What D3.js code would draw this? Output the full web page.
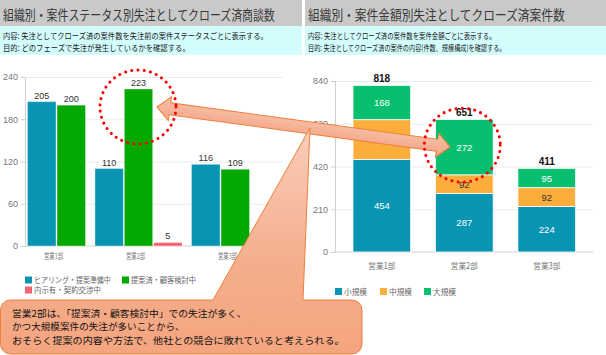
<!DOCTYPE html>
<html><head><meta charset="utf-8">
<script src="https://cdn.jsdelivr.net/npm/d3@7"></script>
<style>
html,body{margin:0;padding:0;background:#fff;}
svg{display:block;font-family:"Noto Sans CJK JP","Noto Sans",sans-serif;}
</style></head>
<body><svg id="c" width="606" height="355"></svg>
<script>
// ---- data ----
const categories = ["営業1部", "営業2部", "営業3部"];
const statusSeries = ["ヒアリング・提案準備中", "提案済・顧客検討中", "内示有・契約交渉中"];
const hearing = [205, 110, 116];
const proposed = [200, 223, 109];
const negotiating = [0, 5, 0];
const statusTicks = [0, 60, 120, 180, 240];

const sizeSeries = ["小規模", "中規模", "大規模"];
const small = [454, 287, 224];
const medium = [196, 92, 92];
const large = [168, 272, 95];
const sizeTicks = [0, 210, 420, 630, 840];

const leftTitle = "組織別・案件ステータス別失注としてクローズ済商談数";
const leftDesc = ["内容: 失注としてクローズ済の案件数を失注前の案件ステータスごとに表示する。", "目的: どのフェーズで失注が発生しているかを確認する。"];
const rightTitle = "組織別・案件金額別失注としてクローズ済案件数";
const rightDesc = ["内容: 失注としてクローズ済の案件数を案件金額ごとに表示する。", "目的: 失注としてクローズ済の案件の内容(件数、規模構成)を確認する。"];
const calloutLines = ["営業2部は、「提案済・顧客検討中」での失注が多く、", "かつ大規模案件の失注が多いことから、", "おそらく提案の内容や方法で、他社との競合に敗れていると考えられる。"];

const statusColors = ["#0894b3", "#02a902", "url(#pinkPat)"];
const sizeColors = ["#0894b3", "#fbae3c", "#08bf6f"];

const svg = d3.select("#c");
const defs = svg.append("defs");
const pat = defs.append("pattern").attr("id", "pinkPat").attr("patternUnits", "userSpaceOnUse").attr("width", 3).attr("height", 3);
pat.append("rect").attr("width", 3).attr("height", 3).attr("fill", "#f76a78");
pat.append("rect").attr("x", 1).attr("y", 1).attr("width", 1).attr("height", 1).attr("fill", "#e2404f");
const g1 = defs.append("linearGradient").attr("id", "calloutGrad").attr("x1", 0).attr("y1", 0).attr("x2", 0).attr("y2", 1);
g1.append("stop").attr("offset", "0").attr("stop-color", "#f9cdb9");
g1.append("stop").attr("offset", "0.6").attr("stop-color", "#f5ae8d");
g1.append("stop").attr("offset", "1").attr("stop-color", "#f4a57f");
const g2 = defs.append("linearGradient").attr("id", "arrowGrad").attr("x1", 0).attr("y1", 0).attr("x2", 0).attr("y2", 1);
g2.append("stop").attr("offset", "0").attr("stop-color", "#f9c4ac");
g2.append("stop").attr("offset", "1").attr("stop-color", "#f2a384");

// place text at (x,y) and squeeze it horizontally to a given width
function fitText(parent, x, y, str, len, attrs) {
  const t = parent.append("text").attr("x", 0).attr("y", 0).text(str);
  Object.entries(attrs || {}).forEach(([k, v]) => t.attr(k, v));
  const nat = t.node().getComputedTextLength() || len;
  t.attr("transform", `translate(${x},${y}) scale(${len / nat},1)`);
  return t;
}

// ---- headers ----
function header(x0, x1, title, titleLen, desc, descLens) {
  svg.append("rect").attr("x", x0).attr("y", 0).attr("width", x1 - x0).attr("height", 26).attr("fill", "#c9c9c9");
  svg.append("rect").attr("x", x0).attr("y", 26).attr("width", x1 - x0).attr("height", 29).attr("fill", "#d3fcfc");
  fitText(svg, x0 + 3, 20, title, titleLen, { "font-size": 13.5, fill: "#383838" });
  desc.forEach((d, i) => {
    fitText(svg, x0 + 3, 38.5 + i * 12, d, descLens[i], { "font-size": 8.5, fill: "#222" });
  });
}
header(0, 302, leftTitle, 272, leftDesc, [265, 187]);
header(305, 606, rightTitle, 257, rightDesc, [188, 198]);

// ---- left chart ----
(function () {
  const axX = 25, right = 283;
  const y = d3.scaleLinear().domain([0, 240]).range([246, 77]);
  const x = d3.scaleBand().domain(categories).range([15.5, 261.5]);
  const g = svg.append("g");
  g.append("g").attr("transform", `translate(${axX},0)`)
    .call(d3.axisLeft(y).tickValues(statusTicks.filter(v => v > 0)).tickSize(-(right - axX)).tickFormat(""))
    .call(s => s.select(".domain").remove())
    .call(s => s.selectAll("line").attr("stroke", "#ececec"));
  g.append("g").attr("transform", `translate(${axX},0)`)
    .call(d3.axisLeft(y).tickValues(statusTicks).tickSize(4).tickPadding(3))
    .call(s => s.select(".domain").attr("stroke", "#d0d0d0"))
    .call(s => s.selectAll("line").attr("stroke", "#d0d0d0"))
    .call(s => s.selectAll("text").attr("fill", "#777").attr("font-size", 9).attr("font-family", "Liberation Sans, Arial, sans-serif"));
  g.append("line").attr("x1", axX).attr("x2", right).attr("y1", y(0)).attr("y2", y(0)).attr("stroke", "#d0d0d0");

  const series = [hearing, proposed, negotiating];
  categories.forEach((c, ci) => {
    const keys = [0, 1, 2].filter(k => series[k][ci] > 0);
    const cx = x(c) + x.bandwidth() / 2;
    const inner = d3.scaleBand().domain(keys).range([cx - keys.length * 29 / 2, cx + keys.length * 29 / 2]).paddingInner(1 / 29);
    keys.forEach(k => {
      const v = series[k][ci];
      g.append("rect").attr("x", inner(k)).attr("width", inner.bandwidth())
        .attr("y", y(v)).attr("height", y(0) - y(v))
        .attr("fill", statusColors[k]).attr("stroke", "rgba(255,255,255,0.35)").attr("stroke-width", 1);
      g.append("text").attr("x", inner(k) + inner.bandwidth() / 2).attr("y", y(v) - 3)
        .attr("text-anchor", "middle").attr("font-size", 9).attr("fill", "#333")
        .attr("font-family", "Liberation Sans, Arial, sans-serif").text(v);
    });
    fitText(g, cx - 3 + (ci === 2 ? 10 : 0), 258.5, c, 19, { "font-size": 8, fill: "#777", "text-anchor": "middle" });
  });
  const leg = [[25, 283, 0, 77], [122, 283, 1, 65], [25, 293, 2, 67]];
  leg.forEach(([lx, ly, k, len]) => {
    g.append("rect").attr("x", lx).attr("y", ly - 6.5).attr("width", 7).attr("height", 7).attr("fill", statusColors[k]);
    fitText(g, lx + 9, ly, statusSeries[k], len, { "font-size": 8, fill: "#666" });
  });
})();

// ---- right chart ----
let rightX, rightY;
(function () {
  const axX = 335, right = 593;
  const y = d3.scaleLinear().domain([0, 840]).range([252, 81]);
  const x = d3.scaleBand().domain(categories).range([340.6, 588]).paddingInner(0.3).paddingOuter(0.15);
  rightX = x; rightY = y;
  const g = svg.append("g");
  g.append("g").attr("transform", `translate(${axX},0)`)
    .call(d3.axisLeft(y).tickValues(sizeTicks.filter(v => v > 0)).tickSize(-(right - axX)).tickFormat(""))
    .call(s => s.select(".domain").remove())
    .call(s => s.selectAll("line").attr("stroke", "#ececec"));
  g.append("g").attr("transform", `translate(${axX},0)`)
    .call(d3.axisLeft(y).tickValues(sizeTicks).tickSize(4).tickPadding(3))
    .call(s => s.select(".domain").attr("stroke", "#d0d0d0"))
    .call(s => s.selectAll("line").attr("stroke", "#d0d0d0"))
    .call(s => s.selectAll("text").attr("fill", "#777").attr("font-size", 9).attr("font-family", "Liberation Sans, Arial, sans-serif"));
  g.append("line").attr("x1", axX).attr("x2", right).attr("y1", y(0)).attr("y2", y(0)).attr("stroke", "#d0d0d0");

  const table = categories.map((c, i) => ({ cat: c, s0: small[i], s1: medium[i], s2: large[i] }));
  const stacked = d3.stack().keys(["s0", "s1", "s2"])(table);
  stacked.forEach((layer, li) => {
    layer.forEach(d => {
      const c = d.data.cat;
      g.append("rect").attr("x", x(c)).attr("width", x.bandwidth())
        .attr("y", y(d[1])).attr("height", y(d[0]) - y(d[1]))
        .attr("fill", sizeColors[li]).attr("stroke", "#fff").attr("stroke-width", 0.8);
      g.append("text").attr("x", x(c) + x.bandwidth() / 2).attr("y", (y(d[0]) + y(d[1])) / 2 + 3.5)
        .attr("text-anchor", "middle").attr("font-size", 9.5)
        .attr("fill", li === 1 ? "#333" : "#fff")
        .attr("font-family", "Liberation Sans, Arial, sans-serif").text(d[1] - d[0]);
    });
  });
  table.forEach(d => {
    const tot = d.s0 + d.s1 + d.s2;
    g.append("text").attr("x", x(d.cat) + x.bandwidth() / 2).attr("y", y(tot) - 3)
      .attr("text-anchor", "middle").attr("font-size", 10).attr("font-weight", "bold").attr("fill", "#111")
      .attr("font-family", "Liberation Sans, Arial, sans-serif").text(tot);
    fitText(g, x(d.cat) + x.bandwidth() / 2, 268.5, d.cat, 27, { "font-size": 8.5, fill: "#777", "text-anchor": "middle" });
  });
  const legX = [335, 380, 424];
  sizeSeries.forEach((s, k) => {
    g.append("rect").attr("x", legX[k]).attr("y", 288).attr("width", 7).attr("height", 7).attr("fill", sizeColors[k]);
    fitText(g, legX[k] + 9, 294.5, s, 23, { "font-size": 8, fill: "#666" });
  });
})();

// ---- annotations ----
const apex = [310, 128];
const bx0 = 0.5, by0 = 300, bx1 = 362, by1 = 354, r = 10;
const cp = d3.path();
cp.moveTo(bx0 + r, by0);
cp.lineTo(213, by0);
cp.lineTo(apex[0], apex[1]);
cp.lineTo(303, by0);
cp.lineTo(bx1 - r, by0);
cp.arcTo(bx1, by0, bx1, by0 + r, r);
cp.lineTo(bx1, by1 - r);
cp.arcTo(bx1, by1, bx1 - r, by1, r);
cp.lineTo(bx0 + r, by1);
cp.arcTo(bx0, by1, bx0, by1 - r, r);
cp.lineTo(bx0, by0 + r);
cp.arcTo(bx0, by0, bx0 + r, by0, r);
cp.closePath();

const leftCx = 138, leftCy = 107;
const p1 = [157, 107], p2 = [450, 147];
const dx = p2[0] - p1[0], dy = p2[1] - p1[1];
const L = Math.hypot(dx, dy), ang = Math.atan2(dy, dx) * 180 / Math.PI;
const hw = 6, hh = 12, hl = 13;
const ap = d3.path();
ap.moveTo(0, 0);
ap.lineTo(hl, -hh); ap.lineTo(hl, -hw); ap.lineTo(L - hl, -hw); ap.lineTo(L - hl, -hh);
ap.lineTo(L, 0);
ap.lineTo(L - hl, hh); ap.lineTo(L - hl, hw); ap.lineTo(hl, hw); ap.lineTo(hl, hh);
ap.closePath();
svg.append("path").attr("d", ap.toString()).attr("transform", `translate(${p1[0]},${p1[1]}) rotate(${ang})`)
  .attr("fill", "url(#arrowGrad)").attr("stroke", "#ee7f3b").attr("stroke-width", 1);

svg.append("path").attr("d", cp.toString()).attr("fill", "url(#calloutGrad)").attr("stroke", "#ee7f3b").attr("stroke-width", 1);

calloutLines.forEach((l, i) => {
  fitText(svg, 12, 316.5 + i * 13.6, l, [235, 173, 333][i], { "font-size": 9.3, fill: "#111" });
});

function dotted(cx, cy) {
  svg.append("ellipse").attr("cx", cx).attr("cy", cy).attr("rx", 38).attr("ry", 37)
    .attr("fill", "none").attr("stroke", "#ff0000").attr("stroke-width", 3)
    .attr("stroke-linecap", "round").attr("stroke-dasharray", "0.1 6.2");
}
dotted(leftCx, leftCy);
dotted(rightX("営業2部") + rightX.bandwidth() / 2 - 2, (rightY(small[1] + medium[1]) + rightY(small[1] + medium[1] + large[1])) / 2 - 2);
</script></body></html>
